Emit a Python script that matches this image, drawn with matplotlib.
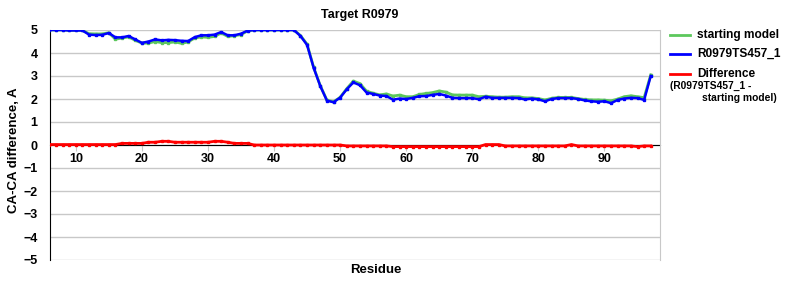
import matplotlib
matplotlib.use("Agg")
import matplotlib.pyplot as plt
from matplotlib.lines import Line2D

residues = list(range(6, 98))

model_ts457 = [5.0, 5.0, 5.0, 4.98, 4.98, 4.98, 4.80, 4.78, 4.79, 4.87,
               4.68, 4.68, 4.74, 4.59, 4.44, 4.50, 4.59, 4.55, 4.57, 4.56,
               4.53, 4.52, 4.69, 4.77, 4.77, 4.80, 4.91, 4.77, 4.77, 4.84,
               4.97, 5.0, 5.0, 5.0, 5.0, 5.0, 5.0, 5.0, 4.74, 4.35,
               3.35, 2.56, 1.93, 1.86, 2.06, 2.42, 2.72, 2.60, 2.28, 2.22,
               2.15, 2.13, 1.97, 2.02, 2.00, 2.05, 2.12, 2.13, 2.18, 2.22,
               2.15, 2.05, 2.04, 2.04, 2.04, 1.99, 2.10, 2.05, 2.05, 2.05,
               2.05, 2.04, 1.98, 2.02, 1.98, 1.90, 2.00, 2.04, 2.04, 2.04,
               2.00, 1.94, 1.90, 1.88, 1.90, 1.82, 1.96, 2.02, 2.05, 2.04,
               1.96, 3.00]

starting_model = [5.0, 5.0, 5.0, 4.98, 4.98, 4.98, 4.84, 4.83, 4.83, 4.88,
                  4.60, 4.65, 4.70, 4.55, 4.43, 4.43, 4.50, 4.45, 4.45, 4.48,
                  4.42, 4.48, 4.65, 4.70, 4.68, 4.72, 4.87, 4.72, 4.75, 4.80,
                  4.96, 5.0, 5.0, 5.0, 5.0, 5.0, 5.0, 5.0, 4.76, 4.38,
                  3.37, 2.58, 1.95, 1.88, 2.07, 2.45, 2.78, 2.67, 2.34, 2.25,
                  2.18, 2.22, 2.13, 2.17, 2.10, 2.10, 2.20, 2.24, 2.28, 2.35,
                  2.30, 2.18, 2.17, 2.17, 2.17, 2.10, 2.12, 2.10, 2.08, 2.08,
                  2.10, 2.10, 2.05, 2.05, 2.02, 1.96, 2.03, 2.07, 2.07, 2.07,
                  2.02, 1.98, 1.96, 1.96, 1.95, 1.92, 2.00, 2.10, 2.14, 2.10,
                  2.06, 3.05]

difference = ([0.02] * 11 + [0.07] * 4 + [0.12] * 2 + [0.16] * 2 + [0.12] * 6
              + [0.16] * 2 + [0.12] + [0.07] * 3 + [0.0] * 14 + [-0.04] * 7
              + [-0.07] * 14 + [0.02] * 3 + [-0.04] * 10 + [0.02] + [-0.04] * 9
              + [-0.07] + [-0.04] + [-0.04])

xticks = [10, 20, 30, 40, 50, 60, 70, 80, 90]
yticks = [-5, -4, -3, -2, -1, 0, 1, 2, 3, 4, 5]

GREEN = "#5cc85c"
BLUE = "#0000ff"
RED = "#ff0000"

plt.rcParams["font.family"] = ["Liberation Sans", "DejaVu Sans"]
plt.rcParams["font.weight"] = "bold"

fig = plt.figure(figsize=(8, 3), dpi=100)
ax = fig.add_axes([50 / 800, 1 - 260 / 300, 610 / 800, 230 / 300])

ax.plot(residues, starting_model, color=GREEN, lw=2, marker="s", ms=1.8, zorder=3)
ax.plot(residues, model_ts457, color=BLUE, lw=1.8, marker="s", ms=1.8, zorder=4)
ax.plot(residues, difference, color=RED, lw=2, marker="s", ms=1.8, zorder=4)

ax.set_xlim(6.1, 98.4)
ax.set_ylim(-5, 5)
ax.set_yticks(yticks)
ax.set_xticks(xticks)
ax.yaxis.grid(True, color="#c8c8c8", lw=1)
ax.set_axisbelow(True)

ax.spines["bottom"].set_position(("data", 0))
ax.spines["bottom"].set_color("black")
ax.spines["bottom"].set_zorder(2)
ax.spines["left"].set_color("black")
ax.spines["top"].set_visible(False)
ax.spines["right"].set_color("#c8c8c8")

ax.tick_params(axis="x", direction="out", length=4, color="#c8c8c8",
               labelsize=9, pad=2)
ax.tick_params(axis="y", length=0, labelsize=9, pad=9)
for lab in ax.get_xticklabels() + ax.get_yticklabels():
    lab.set_fontweight("bold")

fig.text(360 / 800, 1 - 15 / 300, "Target R0979", ha="center", va="center",
         fontsize=9, fontweight="bold")
fig.text(376 / 800, 1 - 270 / 300, "Residue", ha="center", va="center",
         fontsize=9.5, fontweight="bold")
fig.text(14 / 800, 1 - 150 / 300, "CA-CA difference, A", ha="center", va="center",
         rotation=90, fontsize=9.5, fontweight="bold")

# legend
for y, c, label in [(35, GREEN, "starting model"), (54, BLUE, "R0979TS457_1"),
                    (74, RED, "Difference")]:
    fig.add_artist(Line2D([670 / 800, 690 / 800], [1 - y / 300, 1 - y / 300],
                          color=c, lw=2, transform=fig.transFigure))
    fig.text(697 / 800, 1 - y / 300, label, ha="left", va="center",
             fontsize=8.6, fontweight="bold")
fig.text(670 / 800, 1 - 86 / 300, "(R0979TS457_1 -", ha="left", va="center",
         fontsize=7.4, fontweight="bold")
fig.text(777 / 800, 1 - 98 / 300, "starting model)", ha="right", va="center",
         fontsize=7.4, fontweight="bold")

fig.savefig("out.png", dpi=100)
